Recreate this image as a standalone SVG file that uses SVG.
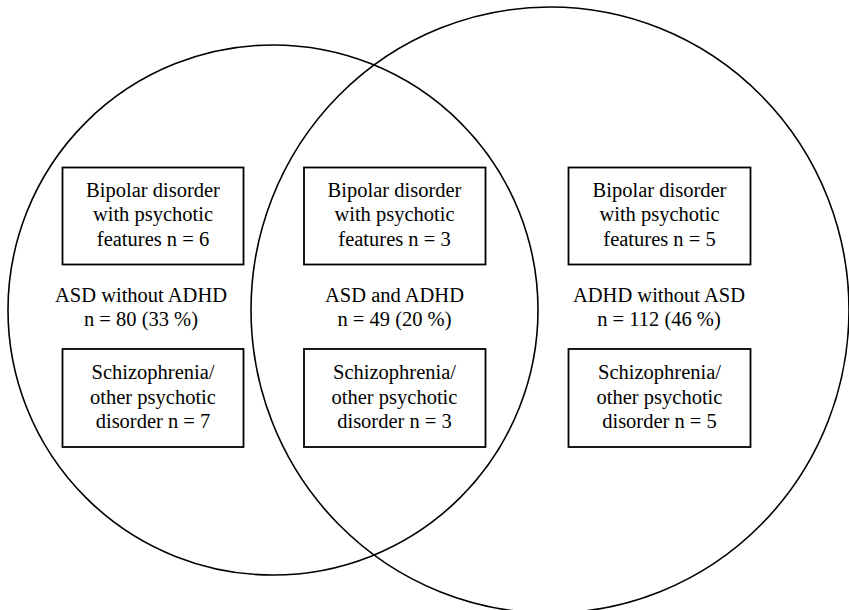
<svg xmlns="http://www.w3.org/2000/svg" width="849" height="610" viewBox="0 0 849 610">
<rect width="849" height="610" fill="#fff"/>
<g id="sets" fill="none" stroke="#000" stroke-width="1.6">
<circle id="asd" cx="273" cy="310" r="265"/>
<ellipse id="adhd" cx="550" cy="310" rx="299" ry="303"/>
</g>
<g id="nodes" font-family="Liberation Serif" font-size="20.5" text-anchor="middle" fill="#000">
<g id="left-bipolar"><rect x="62.5" y="167.5" width="181" height="97" fill="#fff" stroke="#000" stroke-width="1.8"/>
<text x="153" y="196.5">Bipolar disorder</text><text x="153" y="221">with psychotic</text><text x="153" y="245.5">features n = 6</text></g>
<g id="left-label"><text x="141" y="301.5">ASD without ADHD</text><text x="141" y="325.5">n = 80 (33 %)</text></g>
<g id="left-schizo"><rect x="62.5" y="349" width="181" height="98" fill="#fff" stroke="#000" stroke-width="1.8"/>
<text x="153" y="379">Schizophrenia/</text><text x="153" y="403.5">other psychotic</text><text x="153" y="427.5">disorder n = 7</text></g>
<g id="mid-bipolar"><rect x="304" y="167.5" width="181.5" height="97" fill="#fff" stroke="#000" stroke-width="1.8"/>
<text x="394.5" y="196.5">Bipolar disorder</text><text x="394.5" y="221">with psychotic</text><text x="394.5" y="245.5">features n = 3</text></g>
<g id="mid-label"><text x="394.5" y="301.5">ASD and ADHD</text><text x="394.5" y="325.5">n = 49 (20 %)</text></g>
<g id="mid-schizo"><rect x="304" y="349" width="181.5" height="98" fill="#fff" stroke="#000" stroke-width="1.8"/>
<text x="394.5" y="379">Schizophrenia/</text><text x="394.5" y="403.5">other psychotic</text><text x="394.5" y="427.5">disorder n = 3</text></g>
<g id="right-bipolar"><rect x="568.5" y="167.5" width="182" height="97" fill="#fff" stroke="#000" stroke-width="1.8"/>
<text x="659.5" y="196.5">Bipolar disorder</text><text x="659.5" y="221">with psychotic</text><text x="659.5" y="245.5">features n = 5</text></g>
<g id="right-label"><text x="659" y="301.5">ADHD without ASD</text><text x="659" y="325.5">n = 112 (46 %)</text></g>
<g id="right-schizo"><rect x="568.5" y="349" width="182" height="98" fill="#fff" stroke="#000" stroke-width="1.8"/>
<text x="659.5" y="379">Schizophrenia/</text><text x="659.5" y="403.5">other psychotic</text><text x="659.5" y="427.5">disorder n = 5</text></g>
</g>
<g id="connectors"></g>
</svg>
